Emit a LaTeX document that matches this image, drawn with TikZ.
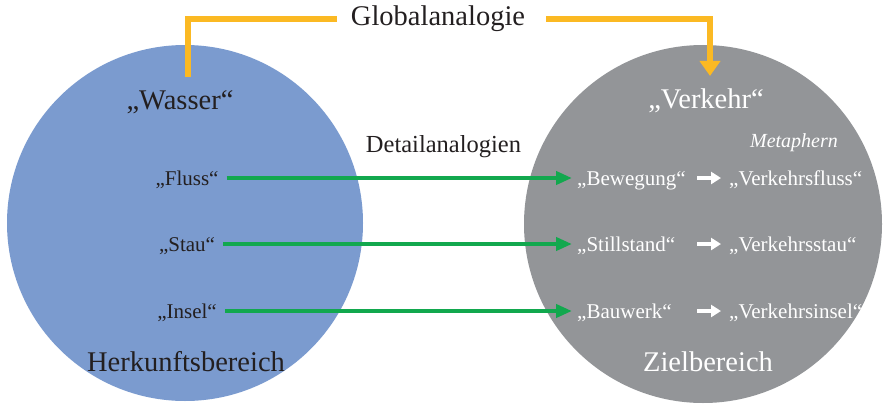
\documentclass[tikz,border=0pt]{standalone}
\usepackage{fontspec}
\setmainfont{Liberation Serif}
\usepackage{tikz}
\usetikzlibrary{arrows.meta}

\definecolor{herkunft}{HTML}{7B9BCF}
\definecolor{ziel}{HTML}{939598}
\definecolor{globgelb}{HTML}{FBB923}
\definecolor{detailgruen}{HTML}{12A84E}
\definecolor{schrift}{HTML}{231F20}

\tikzset{
  bereich/.style={circle,inner sep=0pt,outer sep=0pt},
  gross/.style={font=\fontsize{28.5}{30}\selectfont,inner sep=0pt,text height=20pt,text depth=6pt},
  domaene/.style={gross,outer ysep=12pt},
  begriff/.style={font=\fontsize{21}{23}\selectfont,inner sep=0pt,text height=16.8pt,text depth=1pt},
  globpfeil/.style={globgelb,line width=6pt},
  detailpfeil/.style={detailgruen,line width=4pt,-{Triangle[length=16pt,width=13pt]},
    shorten <=8pt,shorten >=5pt},
  metapfeil/.style={white,line width=4.5pt,-{Triangle[length=10pt,width=12pt]},shorten >=8pt}
}

\begin{document}
\begin{tikzpicture}[x=1pt,y=-1pt]
        \useasboundingbox (0,0) rectangle (883,404);
        % \draw[help lines,step=50] (0,0) grid (883,404);

        \node[bereich,fill=herkunft,minimum size=356pt] (quelle) at (185,223) {};
        \node[bereich,fill=ziel,minimum size=358pt] (zielkreis) at (703,224) {};

        \node[domaene,text=schrift,anchor=base] (wasser) at (180,109) {„Wasser“};
        \node[domaene,text=white,anchor=base] (verkehr) at (706,108) {„Verkehr“};
        \node[gross,text=schrift,anchor=base] at (186,371) {Herkunftsbereich};
        \node[gross,text=white,anchor=base] at (708,371) {Zielbereich};

        \node[gross,text=schrift,outer xsep=14pt] (global) at (438,19) {Globalanalogie};
        \node[text=schrift,font=\fontsize{24.5}{26}\selectfont,anchor=base] (detail) at (443.5,152) {Detailanalogien};
        \node[text=white,font=\fontsize{20}{22}\itshape\selectfont,anchor=base] (metaphern) at (794,147) {Metaphern};

        % Bildspender
        \node[begriff,text=schrift] (fluss) at (187,178) {„Fluss“};
        \node[begriff,text=schrift] (stau) at (187,244) {„Stau“};
        \node[begriff,text=schrift] (insel) at (187,311) {„Insel“};

        % Bildempfaenger
        \node[begriff,text=white,anchor=west] (bewegung) at (577,178) {„Bewegung“};
        \node[begriff,text=white,anchor=west] (stillstand) at (577,244) {„Stillstand“};
        \node[begriff,text=white,anchor=west] (bauwerk) at (577,311) {„Bauwerk“};

        \node[begriff,text=white,anchor=west] (vfluss) at (729,178) {„Verkehrsfluss“};
        \node[begriff,text=white,anchor=west] (vstau) at (729,244) {„Verkehrsstau“};
        \node[begriff,text=white,anchor=west] (vinsel) at (729,311) {„Verkehrsinsel“};

        % Wasser to Verkehr
        \draw[globpfeil] ([xshift=8pt]wasser.north) |- (global.west);
        \draw[globpfeil,-{Triangle[length=15pt,width=20pt]},shorten <=7pt] (global.east) -| ([xshift=4pt]verkehr.north);

        % detail analogies
        \draw[detailpfeil] (fluss.east) -- (bewegung.west);
        \draw[detailpfeil] (stau.east) -- (stillstand.west);
        \draw[detailpfeil] (insel.east) -- (bauwerk.west);

        % metaphors
        \draw[metapfeil] ([xshift=-32pt]vfluss.west) -- (vfluss.west);
        \draw[metapfeil] ([xshift=-32pt]vstau.west) -- (vstau.west);
        \draw[metapfeil] ([xshift=-32pt]vinsel.west) -- (vinsel.west);

      \end{tikzpicture}
\end{document}
